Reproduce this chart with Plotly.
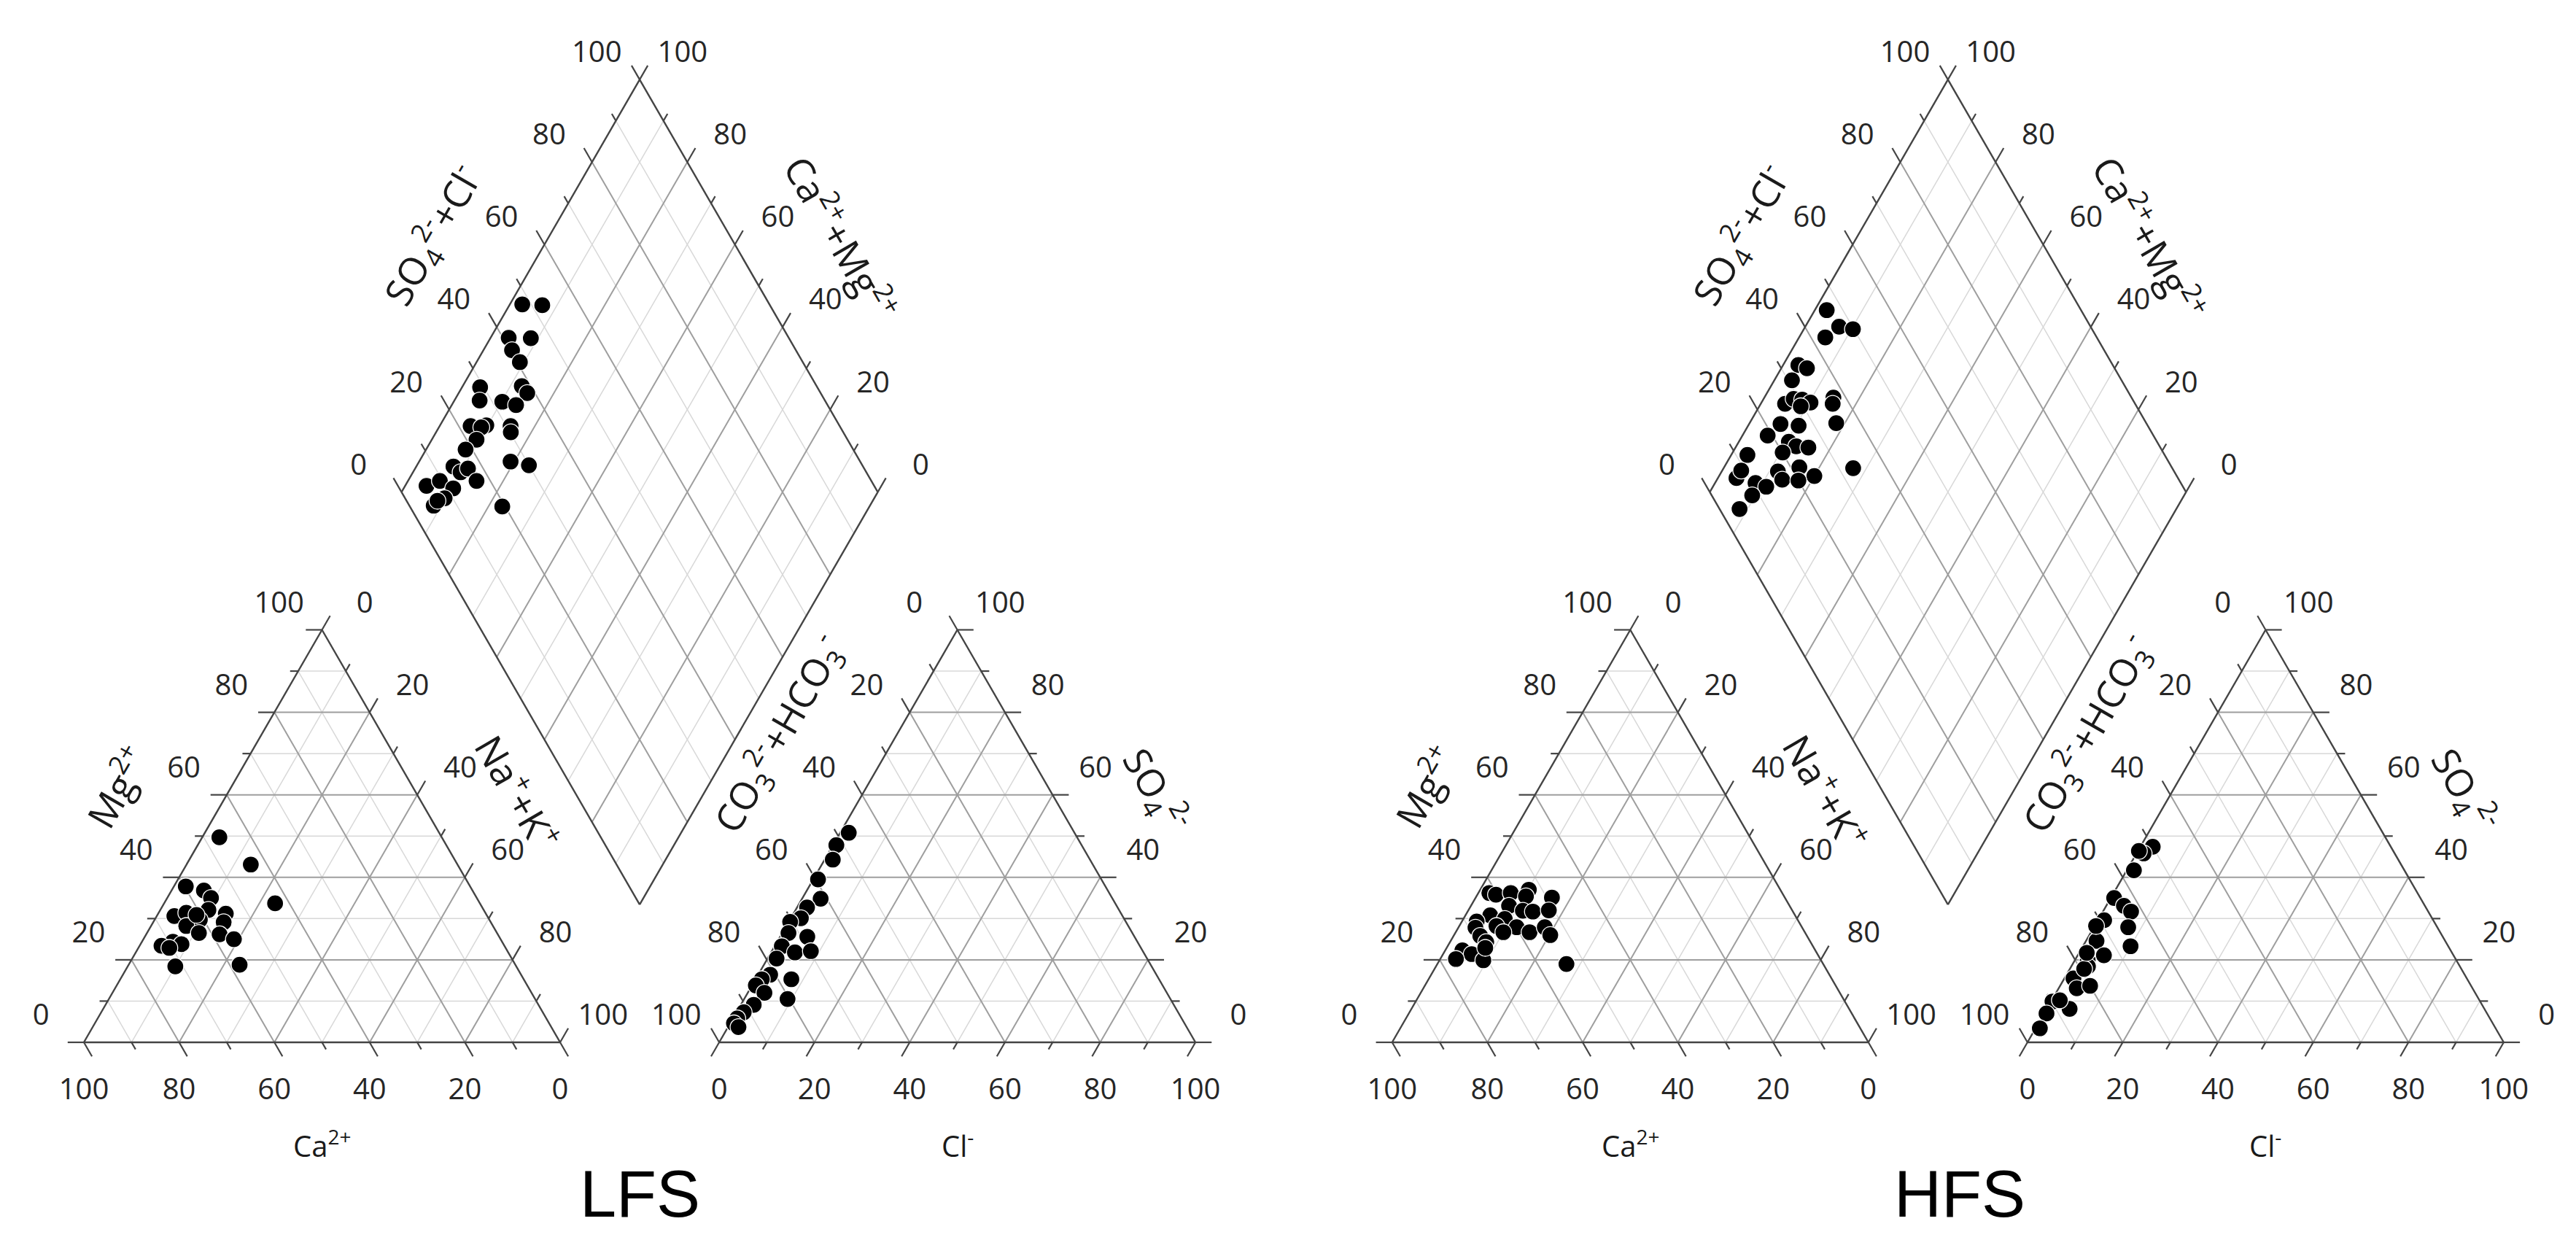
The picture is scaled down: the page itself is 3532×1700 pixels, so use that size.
import numpy as np
import plotly.graph_objects as go

# ---- data (percent of meq/L) ----
# LFS
lfs_mg = [49.7, 43.1, 37.8, 36.8, 35.0, 33.7, 32.1, 31.2, 30.6, 31.4, 29.7, 29.1,
          28.2, 26.5, 26.2, 25.0, 24.4, 23.8, 23.4, 22.9, 18.4, 18.8, 30.9]
lfs_nak = [3.6, 13.5, 2.5, 6.8, 9.2, 23.3, 10.1, 14.2, 3.7, 5.8, 9.5, 14.8,
           7.4, 10.9, 15.4, 19.0, 6.5, 8.6, 4.6, 6.5, 10.0, 23.3, 8.2]
lfs_so4 = [50.8, 47.8, 44.3, 39.5, 34.8, 32.7, 30.1, 29.2, 26.5, 25.6, 23.3, 21.8, 22.1,
           20.3, 16.4, 15.3, 15.3, 13.8, 12.0, 10.5, 9.1, 7.3, 5.8, 4.6, 3.7]
lfs_cl = [1.8, 0.7, 1.7, 1.0, 3.9, 2.1, 2.1, 0.3, 1.3, 5.7, 1.5, 5.0, 8.2,
          1.9, 2.5, 7.5, 1.3, 0.8, 3.5, 9.1, 2.7, 1.5, 0.9, 0.8, 2.2]
lfs_dia_so4cl = [48.1, 52.2, 41.2, 45.8, 40.4, 40.6, 29.2, 27.5, 38.1, 38.4, 32.1, 34.6, 22.5,
                 25.9, 24.6, 30.9, 30.2, 22.1, 18.6, 26.6, 30.0, 14.0, 14.8, 16.8, 17.1, 6.0,
                 9.4, 11.3, 8.3, 5.1, 6.5, 19.4]
lfs_dia_camg = [97.4, 93.1, 96.2, 91.5, 94.0, 90.9, 96.2, 94.7, 87.6, 85.6, 89.8, 86.5, 93.5,
                90.3, 91.1, 85.1, 84.3, 90.6, 91.7, 80.8, 76.5, 92.2, 90.0, 88.9, 85.6, 95.5,
                93.3, 89.6, 90.2, 91.6, 91.4, 77.1]

# HFS
hfs_mg = [36.2, 35.8, 36.2, 37.0, 35.4, 35.1, 33.1, 31.9, 31.7, 32.0, 30.8, 29.3, 29.9, 28.2,
          27.9, 27.8, 26.7, 26.7, 27.9, 26.0, 25.8, 24.3, 22.3, 21.4, 20.2, 19.9, 19.0, 22.9]
hfs_nak = [2.3, 3.9, 6.8, 10.2, 10.4, 16.0, 8.0, 11.5, 13.7, 16.9, 5.2, 3.1, 8.7, 7.8,
           12.2, 3.6, 10.0, 15.5, 18.1, 20.2, 5.6, 7.6, 3.6, 6.0, 3.3, 9.2, 27.1, 8.1]
hfs_so4 = [47.4, 45.8, 46.4, 41.7, 35.0, 33.1, 31.7, 29.6, 27.9, 24.6, 23.3, 21.1, 19.9,
           18.4, 15.5, 13.1, 13.7, 28.2, 9.9, 8.1, 7.0, 3.4, 10.2, 17.8, 21.7]
hfs_cl = [2.6, 1.5, 0.2, 1.5, 0.7, 3.7, 5.9, 1.3, 7.2, 2.2, 10.0, 5.5, 2.7,
          3.5, 1.9, 3.8, 6.3, 0.3, 0.3, 4.8, 0.5, 0.9, 1.7, 3.0, 1.6]
hfs_dia_so4cl = [46.6, 47.2, 49.8, 43.0, 34.0, 35.4, 30.8, 26.5, 28.9, 30.6, 32.0, 29.5, 37.4,
                 36.5, 23.1, 26.7, 34.9, 19.0, 22.7, 23.7, 26.1, 20.1, 12.4, 33.0, 16.8, 21.8,
                 23.9, 16.7, 20.0, 7.3, 9.2, 10.7, 12.5, 8.5, 4.2]
hfs_dia_camg = [97.5, 92.9, 89.7, 94.5, 96.8, 94.6, 96.3, 94.9, 93.7, 91.8, 89.7, 91.3, 85.5,
                84.9, 93.4, 89.4, 81.8, 94.7, 89.5, 87.4, 84.7, 89.5, 96.6, 72.8, 88.2, 84.2,
                80.0, 86.3, 82.8, 96.1, 96.0, 91.5, 88.8, 90.7, 91.7]

tick_values = [0, 20, 40, 60, 80, 100]
panels = [
    {"name": "LFS", "shift": 0.0, "mg": lfs_mg, "nak": lfs_nak, "so4": lfs_so4, "cl": lfs_cl,
     "ds": lfs_dia_so4cl, "dc": lfs_dia_camg, "title_dx": 0.0},
    {"name": "HFS", "shift": 274.7, "mg": hfs_mg, "nak": hfs_nak, "so4": hfs_so4, "cl": hfs_cl,
     "ds": hfs_dia_so4cl, "dc": hfs_dia_camg, "title_dx": 2.5},
]

H = np.sqrt(3) / 2
GAP = 33.4      # gap between the two triangles (triangle side = 100)
PX = 6.53       # pixels per unit
LOFF = 10.4     # tick label distance
FONT = "Open Sans"


def cat_xy(mg, nak, ox):
    mg = np.asarray(mg, float)
    nak = np.asarray(nak, float)
    return ox + nak + 0.5 * mg, H * mg


def an_xy(so4, cl, ox):
    so4 = np.asarray(so4, float)
    cl = np.asarray(cl, float)
    return ox + 100 + GAP + cl + 0.5 * so4, H * so4


def dia_xy(s, camg, ox):
    s = np.asarray(s, float)
    camg = np.asarray(camg, float)
    bx, by = ox + 100 + GAP / 2, GAP * H
    return bx + 0.5 * (s - camg), by + H * (s + camg)


seg = {k: ([], []) for k in ["minor", "major", "edge", "tick"]}


def add(kind, p, q):
    xs, ys = seg[kind]
    xs += [float(p[0]), float(q[0]), None]
    ys += [float(p[1]), float(q[1]), None]


def add_tick(p, d, v):
    ln = 3.4 if v % 20 == 0 else 1.7
    add("tick", p, (p[0] + d[0] * ln, p[1] + d[1] * ln))


lab_x, lab_y, lab_t = [], [], []


def add_label(p, d, v):
    lab_x.append(float(p[0] + d[0] * LOFF))
    lab_y.append(float(p[1] + d[1] * LOFF))
    lab_t.append(str(v))


annotations = []


def add_title(p, text, angle, size=52):
    annotations.append(dict(x=float(p[0]), y=float(p[1]), xref="x", yref="y", text=text,
                            textangle=angle, showarrow=False, xanchor="center", yanchor="middle",
                            font=dict(family=FONT, size=size, color="#1a1a1a")))


def offset(p, d, r):
    return (float(p[0]) + d[0] * r, float(p[1]) + d[1] * r)


NL = (-H, 0.5)
NR = (H, 0.5)

marker_traces = []
for pn in panels:
    ox = pn["shift"]
    for v in range(0, 101, 10):
        kind = "edge" if v == 0 else ("major" if v % 20 == 0 else "minor")
        if v < 100:
            # cation triangle
            add(kind, cat_xy(v, 0, ox), cat_xy(v, 100 - v, ox))
            add(kind, cat_xy(0, v, ox), cat_xy(100 - v, v, ox))
            add(kind, cat_xy(0, 100 - v, ox), cat_xy(100 - v, 0, ox))
            # anion triangle
            add(kind, an_xy(v, 0, ox), an_xy(v, 100 - v, ox))
            add(kind, an_xy(0, v, ox), an_xy(100 - v, v, ox))
            add(kind, an_xy(0, 100 - v, ox), an_xy(100 - v, 0, ox))
        dkind = "edge" if v in (0, 100) else kind
        add(dkind, dia_xy(v, 0, ox), dia_xy(v, 100, ox))
        add(dkind, dia_xy(0, v, ox), dia_xy(100, v, ox))

        # ticks
        add_tick(cat_xy(v, 0, ox), (-1, 0), v)
        add_tick(cat_xy(100 - v, v, ox), (0.5, H), v)
        add_tick(cat_xy(0, 100 - v, ox), (0.5, -H), v)
        add_tick(an_xy(v, 100 - v, ox), (1, 0), v)
        add_tick(an_xy(0, v, ox), (-0.5, -H), v)
        add_tick(an_xy(100 - v, 0, ox), (-0.5, H), v)
        add_tick(dia_xy(v, 100, ox), (-0.5, H), v)
        add_tick(dia_xy(100, v, ox), (0.5, H), v)

    for v in tick_values:
        add_label(cat_xy(v, 0, ox), NL, v)
        add_label(cat_xy(100 - v, v, ox), NR, v)
        add_label(cat_xy(0, 100 - v, ox), (0, -1), v)
        add_label(an_xy(v, 100 - v, ox), NR, v)
        add_label(an_xy(0, v, ox), (0, -1), v)
        add_label(an_xy(100 - v, 0, ox), NL, v)
        add_label(dia_xy(v, 100, ox), NL, v)
        add_label(dia_xy(100, v, ox), NR, v)

    # axis titles
    add_title(offset(cat_xy(50, 0, ox), NL, 21.0), "Mg<sup>2+</sup>", -60)
    add_title(offset(cat_xy(50, 50, ox), NR, 18.8), "Na<sup>+</sup>+K<sup>+</sup>", 60)
    add_title((ox + 50, -21.4), "Ca<sup>2+</sup>", 0, 40)
    p = offset(an_xy(50, 0, ox), (0.5, H), 12.3)
    add_title(offset(p, NL, 21.5), "CO<sub>3</sub><sup>2-</sup>+HCO<sub>3</sub><sup>-</sup>", -60)
    add_title(offset(an_xy(50, 50, ox), NR, 19.3), "SO<sub>4</sub><sup>2-</sup>", 60)
    add_title((ox + 150 + GAP, -21.4), "Cl<sup>-</sup>", 0, 40)
    add_title(offset(dia_xy(50, 100, ox), NL, 21.3), "SO<sub>4</sub><sup>2-</sup>+Cl<sup>-</sup>", -60)
    add_title(offset(dia_xy(100, 50, ox), NR, 20.3), "Ca<sup>2+</sup>+Mg<sup>2+</sup>", 60)
    annotations.append(dict(x=ox + 100 + GAP / 2 + pn["title_dx"], y=-31.8, xref="x", yref="y",
                            text=pn["name"], showarrow=False,
                            font=dict(family="Liberation Sans", size=90, color="#000000")))

    # samples
    cx, cy = cat_xy(pn["mg"], pn["nak"], ox)
    ax_, ay = an_xy(pn["so4"], pn["cl"], ox)
    dx, dy = dia_xy(pn["ds"], pn["dc"], ox)
    px = np.concatenate([cx, ax_, dx])
    py = np.concatenate([cy, ay, dy])
    marker_traces.append(go.Scatter(x=px, y=py, mode="markers", name=pn["name"],
                                    marker=dict(size=23, color="black",
                                                line=dict(color="white", width=1.3)),
                                    hoverinfo="skip"))

styles = {"minor": ("#d8d8d8", 1.5), "major": ("#9e9e9e", 2.0),
          "edge": ("#444444", 2.4), "tick": ("#444444", 2.2)}

fig = go.Figure()
for kind in ["minor", "major", "edge", "tick"]:
    col, w = styles[kind]
    fig.add_trace(go.Scatter(x=seg[kind][0], y=seg[kind][1], mode="lines",
                             line=dict(color=col, width=w), hoverinfo="skip"))
for tr in marker_traces:
    fig.add_trace(tr)
fig.add_trace(go.Scatter(x=lab_x, y=lab_y, text=lab_t, mode="text", cliponaxis=False,
                         textfont=dict(family=FONT, size=40, color="#262626"),
                         textposition="middle center", hoverinfo="skip"))

W, Hh = 3532, 1700
x0, y0 = 107, 1421   # pixel position of the LFS cation triangle's left vertex
fig.update_xaxes(range=[-x0 / PX, (W - x0) / PX], visible=False)
fig.update_yaxes(range=[(y0 - Hh) / PX, y0 / PX], visible=False)
fig.update_layout(width=W, height=Hh, margin=dict(l=0, r=0, t=0, b=0),
                  plot_bgcolor="white", paper_bgcolor="white", showlegend=False,
                  annotations=annotations)
fig.write_html("out.html")
